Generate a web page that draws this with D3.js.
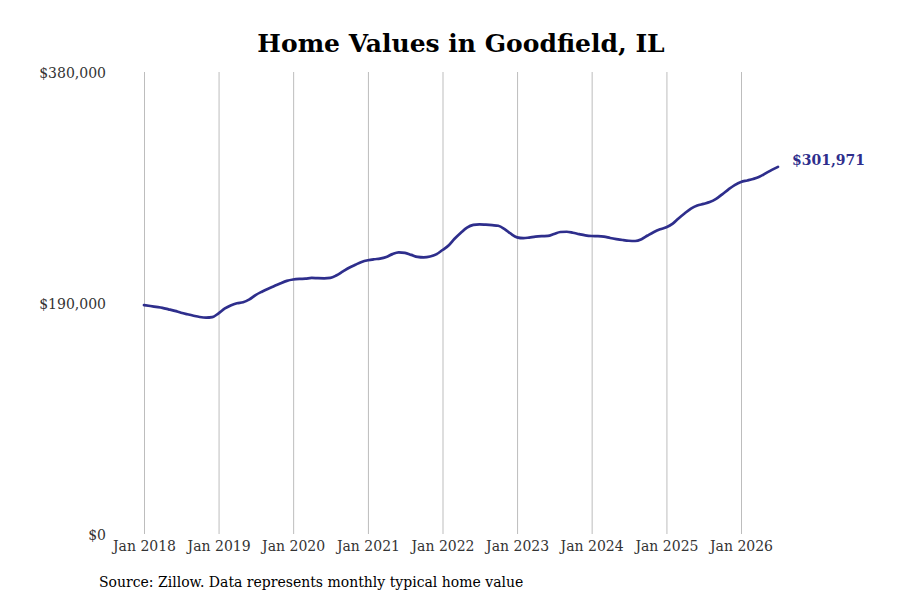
<!DOCTYPE html>
<html>
<head>
<meta charset="utf-8">
<script src="https://cdn.jsdelivr.net/npm/d3@7"></script>
<style>
  body { margin: 0; background: #fff; }
  text { font-family: "DejaVu Serif", serif; }
</style>
</head>
<body>
<div id="chart"></div>
<script>
const WIDTH = 900;
const HEIGHT = 600;
const MARGINS = {left: 144, right: 159, top: 72, bottom: 66};

const START_MONTH = "2018-01";
// monthly typical home value, Jan 2018 .. Jul 2026
const values = [
  188300, 187500, 186800, 186000, 184800, 183500, 182000, 180700, 179500, 178500, 178000, 178400,
  181500, 185500, 188000, 189800, 190600, 193000, 196500, 199300, 201800, 204000, 206300, 208200,
  209300, 209800, 210000, 210600, 210400, 210300, 210600, 212800, 216000, 219000, 221500, 223800,
  225200, 226000, 226500, 227800, 230200, 231600, 231200, 229600, 227900, 227500, 228200, 230000,
  233600, 237500, 242800, 247800, 252000, 254200, 254700, 254400, 254000, 253500, 250800, 247000,
  244000, 243300, 243800, 244600, 245000, 245200, 246800, 248400, 248600, 247800, 246600, 245600,
  245100, 245000, 244600, 243500, 242600, 241800, 241200, 241000, 242500, 245500, 248400, 250600,
  252300, 255300, 259500, 263800, 267600, 270200, 271500, 273000, 275600, 279400, 283500, 287000,
  289600, 290800, 292000, 293800, 296600, 299500, 301971
];
const yTicks = [0, 190000, 380000];
const xTickYears = [2018, 2019, 2020, 2021, 2022, 2023, 2024, 2025, 2026];

const TITLE = "Home Values in Goodfield, IL";
const SOURCE = "Source: Zillow. Data represents monthly typical home value";
const LINE_COLOR = "#2e2e8c";

const parseMonth = d3.timeParse("%Y-%m");
const start = parseMonth(START_MONTH);
const data = values.map((v, i) => ({date: d3.timeMonth.offset(start, i), value: v}));

const svg = d3.select("#chart")
  .append("svg")
    .attr("width", WIDTH)
    .attr("height", HEIGHT);

const x = d3.scaleTime()
  .domain([new Date(2018, 0, 1), new Date(2026, 0, 1)])
  .range([144, 741]);

const y = d3.scaleLinear()
  .domain([0, 380000])
  .range([HEIGHT - MARGINS.bottom, MARGINS.top]);

// vertical gridlines + year labels
const xAxis = d3.axisBottom(x)
  .tickValues(xTickYears.map(yr => new Date(yr, 0, 1)))
  .tickSize(-(y(0) - y(380000)))
  .tickFormat(d3.timeFormat("Jan %Y"));

const gx = svg.append("g")
  .attr("transform", `translate(0,${y(0)})`)
  .call(xAxis);
gx.select(".domain").remove();
gx.selectAll(".tick line").attr("stroke", "#bdbdbd").attr("stroke-width", 1);
gx.selectAll(".tick text")
  .attr("y", 7)
  .attr("fill", "#333")
  .style("font-size", "14px")
  .style("font-family", "'DejaVu Serif', serif");

// y labels
const yAxis = d3.axisLeft(y)
  .tickValues(yTicks)
  .tickSize(0)
  .tickFormat(d => "$" + d3.format(",")(d));

const gy = svg.append("g")
  .attr("transform", "translate(106,1)")
  .call(yAxis);
gy.select(".domain").remove();
gy.selectAll(".tick text")
  .attr("x", 0)
  .attr("fill", "#333")
  .style("font-size", "14px")
  .style("font-family", "'DejaVu Serif', serif");

const line = d3.line()
  .x(d => x(d.date))
  .y(d => y(d.value))
  .curve(d3.curveMonotoneX);

svg.append("path")
  .datum(data)
  .attr("fill", "none")
  .attr("stroke", LINE_COLOR)
  .attr("stroke-width", 2.7)
  .attr("stroke-linejoin", "round")
  .attr("stroke-linecap", "round")
  .attr("d", line);

const last = data[data.length - 1];
svg.append("text")
  .attr("x", x(last.date) + 14)
  .attr("y", y(last.value) - 6)
  .attr("dominant-baseline", "middle")
  .attr("fill", LINE_COLOR)
  .style("font-weight", "bold")
  .style("font-size", "14px")
  .text("$" + d3.format(",")(last.value));

svg.append("text")
  .attr("x", 461)
  .attr("y", 45)
  .attr("text-anchor", "middle")
  .attr("dominant-baseline", "middle")
  .attr("fill", "#000")
  .style("font-weight", "bold")
  .style("font-size", "25px")
  .text(TITLE);

svg.append("text")
  .attr("x", 99)
  .attr("y", 583)
  .attr("dominant-baseline", "middle")
  .attr("fill", "#000")
  .style("font-size", "14px")
  .text(SOURCE);
</script>
</body>
</html>
